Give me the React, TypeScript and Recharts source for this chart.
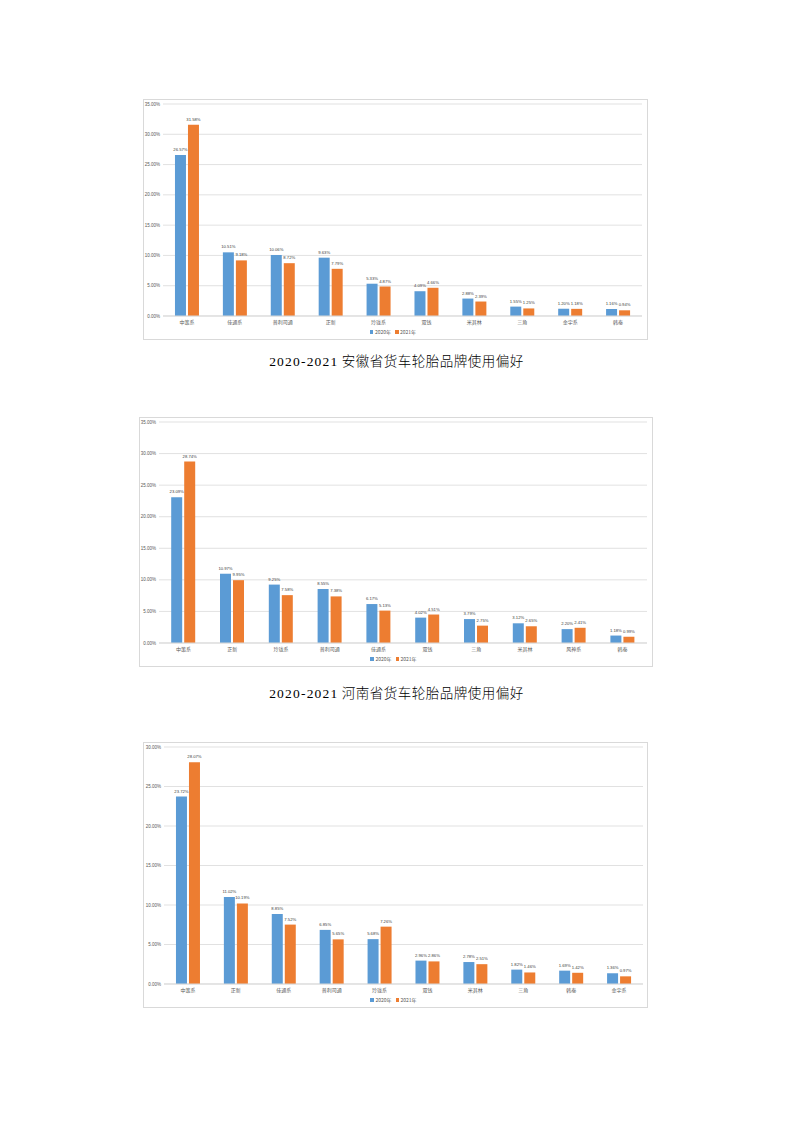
import React from "react";
import { BarChart, Bar, XAxis, YAxis, CartesianGrid, Legend, LabelList } from "recharts";

// 安徽
const anhuiBrands = ["中策系", "佳通系", "普利司通", "正新", "玲珑系", "双钱", "米其林", "三角", "金宇系", "韩泰"];
const anhui2020 = [26.57, 10.51, 10.06, 9.63, 5.33, 4.09, 2.88, 1.55, 1.2, 1.16];
const anhui2021 = [31.58, 9.18, 8.72, 7.79, 4.87, 4.66, 2.39, 1.25, 1.18, 0.94];

// 河南
const henanBrands = ["中策系", "正新", "玲珑系", "普利司通", "佳通系", "双钱", "三角", "米其林", "风神系", "韩泰"];
const henan2020 = [23.09, 10.97, 9.25, 8.55, 6.17, 4.02, 3.79, 3.12, 2.2, 1.18];
const henan2021 = [28.74, 9.95, 7.58, 7.38, 5.13, 4.51, 2.75, 2.65, 2.41, 0.99];

// 第三个省
const thirdBrands = ["中策系", "正新", "佳通系", "普利司通", "玲珑系", "双钱", "米其林", "三角", "韩泰", "金宇系"];
const third2020 = [23.72, 11.02, 8.85, 6.85, 5.68, 2.96, 2.78, 1.82, 1.69, 1.36];
const third2021 = [28.07, 10.19, 7.52, 5.65, 7.26, 2.86, 2.51, 1.46, 1.42, 0.97];

const ticks35 = [0, 5, 10, 15, 20, 25, 30, 35];
const ticks30 = [0, 5, 10, 15, 20, 25, 30];

const seriesNames = ["2020年", "2021年"];

const BLUE = "#5b9bd5";
const ORANGE = "#ed7d31";
const CJK = "'Noto Sans CJK SC', 'Noto Sans', sans-serif";
const LATIN = "'Liberation Sans', sans-serif";

const pct = (v: any) => Number(v).toFixed(2) + "%";

function build(brands: string[], a: number[], b: number[]) {
  return brands.map((name, i) => ({ name, y2020: a[i], y2021: b[i] }));
}

function SmallLegend(props: any) {
  const payload = props.payload || [];
  return (
    <div style={{ display: "flex", justifyContent: "center", alignItems: "center", gap: 4, fontSize: 5, color: "#595959", fontFamily: CJK, lineHeight: "8px" }}>
      {payload.map((p: any) => (
        <span key={p.value} style={{ display: "inline-flex", alignItems: "center" }}>
          <span style={{ display: "inline-block", width: 3.5, height: 3.5, background: p.color, marginRight: 1.5 }} />
          {p.value}
        </span>
      ))}
    </div>
  );
}

interface ChartProps {
  left: number;
  top: number;
  width: number;
  height: number;
  yWidth: number;
  right: number;
  data: any[];
  ticks: number[];
}

function TireChart({ left, top, width, height, yWidth, right, data, ticks }: ChartProps) {
  const labelStyle = { fill: "#404040", fontSize: 4.2, fontFamily: LATIN };
  return (
    <div
      style={{
        position: "absolute",
        left,
        top,
        width,
        height,
        border: "1px solid #d9d9d9",
        boxSizing: "border-box",
        background: "#fff",
      }}
    >
      <BarChart
        width={width - 2}
        height={height - 2}
        data={data}
        margin={{ top: 4, right, left: 0, bottom: 1 }}
        barCategoryGap="25%"
        barGap={2}
      >
        <CartesianGrid vertical={false} stroke="#d9d9d9" strokeWidth={0.8} />
        <XAxis
          dataKey="name"
          height={12}
          tickLine={false}
          tickSize={0}
          axisLine={{ stroke: "#d9d9d9" }}
          tick={{ fill: "#595959", fontSize: 5, fontFamily: CJK }}
          tickMargin={4}
          interval={0}
        />
        <YAxis
          width={yWidth}
          domain={[0, ticks[ticks.length - 1]]}
          ticks={ticks}
          tickFormatter={pct}
          tickLine={false}
          tickSize={0}
          axisLine={false}
          tick={{ fill: "#595959", fontSize: 4.5, fontFamily: LATIN }}
          tickMargin={3}
        />
        <Legend verticalAlign="bottom" height={10} content={<SmallLegend />} />
        <Bar dataKey="y2020" name={seriesNames[0]} fill={BLUE} isAnimationActive={false}>
          <LabelList dataKey="y2020" position="top" offset={4} formatter={pct} style={labelStyle} />
        </Bar>
        <Bar dataKey="y2021" name={seriesNames[1]} fill={ORANGE} isAnimationActive={false}>
          <LabelList dataKey="y2021" position="top" offset={4} formatter={pct} style={labelStyle} />
        </Bar>
      </BarChart>
    </div>
  );
}

function Title({ top, text }: { top: number; text: string }) {
  const [year, ...rest] = text.split(" ");
  return (
    <div
      style={{
        position: "absolute",
        left: 0,
        top,
        width: 793,
        textAlign: "center",
        fontSize: 13.5,
        lineHeight: "18px",
        color: "#000",
        fontFamily: "'Liberation Serif', 'Noto Sans CJK SC', serif",
      }}
    >
      <span style={{ letterSpacing: 1.2 }}>{year}</span>{" "}
      <span style={{ letterSpacing: 0.5, fontFamily: CJK, fontWeight: 300 }}>{rest.join(" ")}</span>
    </div>
  );
}

export default function App() {
  return (
    <div style={{ position: "absolute", left: 0, top: 0, width: 793, height: 1122, background: "#fff" }}>
      <TireChart
        left={143}
        top={99}
        width={505}
        height={241}
        yWidth={19}
        right={5}
        data={build(anhuiBrands, anhui2020, anhui2021)}
        ticks={ticks35}
      />
      <Title top={351} text="2020-2021 安徽省货车轮胎品牌使用偏好" />
      <TireChart
        left={139}
        top={417}
        width={514}
        height={250}
        yWidth={19}
        right={5}
        data={build(henanBrands, henan2020, henan2021)}
        ticks={ticks35}
      />
      <Title top={683} text="2020-2021 河南省货车轮胎品牌使用偏好" />
      <TireChart
        left={143}
        top={742}
        width={505}
        height={266}
        yWidth={20}
        right={4}
        data={build(thirdBrands, third2020, third2021)}
        ticks={ticks30}
      />
    </div>
  );
}
